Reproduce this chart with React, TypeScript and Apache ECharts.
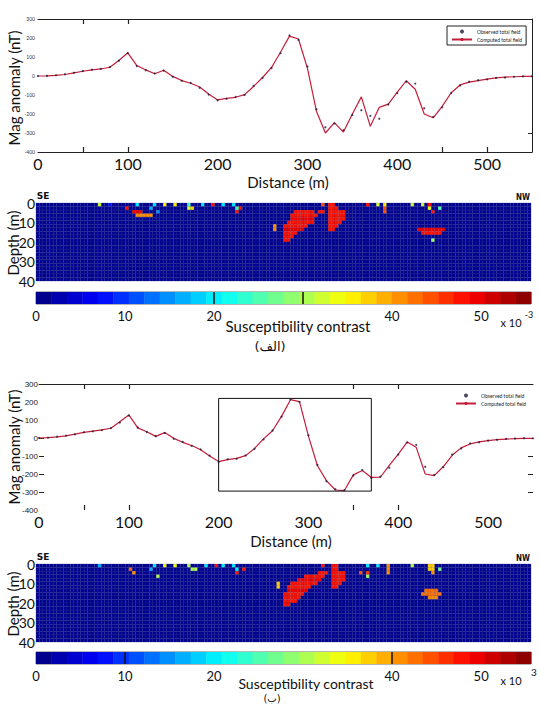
import React, { useEffect, useRef } from 'react';
import * as echarts from 'echarts';

// ---------- data ----------
const DIST = [0,10,20,30,40,50,60,70,80,90,100,110,120,130,140,150,160,170,180,190,200,210,220,230,240,250,260,270,280,290,300,310,320,330,340,350,360,370,380,390,400,410,420,430,440,450,460,470,480,490,500,510,520,530,540,550];

const P1_COMPUTED = [0,1,3,8,16,25,32,37,46,82,
  122,55,32,12,30,-2,-24,-38,-58,-95,
  -126,-118,-112,-98,-55,-8,45,125,210,195,
  40,-185,-300,-245,-295,-200,-110,-265,-165,-148,
  -85,-25,-70,-200,-220,-160,-88,-47,-32,-24,
  -16,-10,-6,-4,-2,-2];
const P1_OBSERVED = [0,1,4,9,17,26,33,38,47,80,
  120,52,30,14,28,-4,-25,-36,-62,-98,
  -128,-120,-110,-100,-52,-10,42,120,214,190,
  50,-175,-270,-250,-285,-205,-180,-210,-225,-150,
  -90,-30,-40,-170,-215,-165,-90,-50,-30,-22,
  -18,-10,-8,-4,-2,-1];
const P2_COMPUTED = [0,2,6,12,22,31,38,45,54,90,
  128,56,35,9,30,-2,-24,-42,-65,-100,
  -131,-120,-113,-98,-58,-5,40,120,213,202,
  10,-154,-237,-289,-292,-205,-181,-219,-218,-152,
  -89,-22,-52,-200,-209,-160,-96,-55,-33,-22,
  -15,-9,-6,-4,-2,-2];
const P2_OBSERVED = [0,2,7,13,20,32,37,44,55,86,
  125,58,33,10,28,-4,-22,-44,-63,-98,
  -133,-118,-115,-97,-60,-8,42,118,215,200,
  15,-150,-240,-285,-290,-208,-178,-222,-215,-165,
  -92,-25,-38,-160,-205,-162,-92,-58,-30,-24,
  -14,-10,-5,-3,-1,-2];

const RECT_X = [200, 370];
const RECT_Y = [220, -295];

const DIST_TICKS_P1_BOTTOM = [50, 100, 450, 500];
const DIST_TICKS_P1_TOP = [50, 100];
const DIST_TICKS_P2 = [50, 100, 350, 400];

// heat-map anomalies: [row, firstCol, lastCol, susceptibility x1e-3]
const HEAT1_RUNS = [
  [0,18,18,33],[0,21,21,8],[0,29,29,20],[0,34,34,20],[0,37,37,36],[0,40,40,36],[0,44,44,24],[0,48,48,20],[0,51,51,48],[0,54,54,20],[0,57,57,20],
  [1,26,26,48],[1,33,33,16],[1,44,44,33],[1,45,45,38],[1,58,58,25],[1,59,59,48],
  [2,28,30,50],[2,35,35,14],[2,58,58,48],
  [3,29,33,40],
  [0,83,83,45],[0,96,96,48],[0,99,99,33],[0,101,101,36],[1,101,101,45],[2,101,101,45],[0,109,109,33],[0,112,112,33],[0,114,114,48],[1,114,114,34],[1,117,117,26],[2,115,115,48],
  [2,75,80,48],[2,82,83,47],[3,74,81,48],[4,74,80,49],[5,73,80,48],[6,72,78,48],[7,72,77,49],[8,72,75,48],[9,72,74,48],[10,72,73,48],
  [6,69,69,40],[7,69,69,40],
  [0,85,86,47],[1,85,87,48],[2,85,89,48],[3,85,89,48],[4,85,89,47],[5,85,88,48],[6,85,87,48],[7,85,86,48],
  [7,111,118,49],[8,112,117,48],[10,115,115,28]
];
const HEAT2_RUNS = [
  [0,18,18,17],[1,33,33,17],[0,34,34,20],[0,37,37,34],[0,40,40,34],[0,44,44,31],[1,45,46,31],[0,49,49,20],[0,52,52,48],[0,54,54,20],[0,57,57,20],[1,58,58,20],[1,60,60,48],[2,58,58,48],
  [1,27,27,43],[2,28,28,40],[3,35,35,30],
  [0,83,83,48],
  [2,82,84,48],[3,78,83,48],[4,76,82,49],[5,74,81,48],[6,73,79,48],[7,73,78,49],[8,72,77,48],[9,72,76,48],[10,72,75,48],[11,72,73,48],
  [5,70,70,38],[6,70,70,38],
  [0,86,87,48],[1,86,87,48],[2,86,89,48],[3,86,89,48],[4,86,89,47],[5,86,88,48],[6,86,87,48],
  [2,94,94,45],[0,96,96,20],[2,96,96,46],[3,96,96,28],[0,99,99,20],[0,102,102,40],[1,102,102,40],[2,102,102,40],[0,109,109,30],[0,114,115,38],[1,114,115,38],[2,115,115,40],[1,117,117,27],
  [7,113,116,42],[8,112,117,42],[9,114,116,41]
];
const BACKGROUND = 0;

const CB_MAX = 55.6;
const CB_LEVELS = 32;
const CB_MARKS_1 = [20, 30];
const CB_MARKS_2 = [10, 40];
const CB_HIDDEN_LABELS = [30];

const COLS = 144;
const ROWS = 22;
const DEPTH_MAX = 40;

// ---------- helpers ----------
const clamp = (x: number) => Math.max(0, Math.min(1, x));
function jet(v: number) {
  const idx = Math.min(CB_LEVELS - 1, Math.max(0, Math.floor((v / CB_MAX) * CB_LEVELS)));
  const t = (idx + 0.5) / CB_LEVELS;
  const r = clamp(1.5 - Math.abs(4 * t - 3));
  const g = clamp(1.5 - Math.abs(4 * t - 2));
  const b = clamp(1.5 - Math.abs(4 * t - 1));
  return `rgb(${Math.round(r * 255)},${Math.round(g * 255)},${Math.round(b * 255)})`;
}
function buildGrid(runs: number[][]) {
  const m = new Map<string, number>();
  runs.forEach(([r, c0, c1, v]) => { for (let c = c0; c <= c1; c++) m.set(c + ',' + r, v); });
  const out: number[][] = [];
  for (let r = 0; r < ROWS; r++) for (let c = 0; c < COLS; c++) {
    const v = m.get(c + ',' + r);
    out.push([c, r, v === undefined ? BACKGROUND : v]);
  }
  return out;
}
const pairs = (xs: number[], ys: number[]) => xs.map((x, i) => [x, ys[i]]);

const FONT = 'Lato, "Open Sans", sans-serif';

export default function App() {
  const ref = useRef<HTMLDivElement>(null);
  useEffect(() => {
    document.body.style.margin = '0';
    if (!ref.current) return;
    const chart = echarts.init(ref.current, null, { renderer: 'svg' });

    const heatRender = (params: any, api: any) => {
      const c = api.value(0), r = api.value(1), v = api.value(2);
      const p0 = api.coord([c, (r * DEPTH_MAX) / ROWS]);
      const p1 = api.coord([c + 1, ((r + 1) * DEPTH_MAX) / ROWS]);
      return {
        type: 'rect',
        shape: { x: p0[0], y: Math.min(p0[1], p1[1]), width: p1[0] - p0[0], height: Math.abs(p1[1] - p0[1]) },
        style: { fill: jet(v), stroke: v > 0 ? 'rgba(0,0,60,0.25)' : 'rgba(25,35,140,0.55)', lineWidth: 0.5 },
      };
    };
    const step = CB_MAX / CB_LEVELS;
    const cbData = Array.from({ length: CB_LEVELS }, (_, i) => [i * step, 0.5]);
    const cbRender = (params: any, api: any) => {
      const x0 = api.value(0);
      const p0 = api.coord([x0, 1]);
      const p1 = api.coord([x0 + step, 0]);
      return {
        type: 'rect',
        shape: { x: p0[0], y: p0[1], width: p1[0] - p0[0] + 0.4, height: p1[1] - p0[1] },
        style: { fill: jet(x0 + step / 2) },
      };
    };

    const lineFrame = { show: true, onZero: false, lineStyle: { color: '#222', width: 1 } };
    const noLabel = { show: false };

    const xLine = (gridIndex: number, position: string, ticks: number[], showLine: boolean, showLabel: boolean) => ({
      type: 'value', gridIndex, position, min: 0, max: 550, interval: 100,
      axisLine: showLine ? lineFrame : { show: false, onZero: false },
      axisTick: { show: true, inside: true, length: 5, customValues: ticks, lineStyle: { color: '#222', width: 1.2 } },
      axisLabel: showLabel
        ? { show: true, fontSize: 16, color: '#111', margin: 3, fontFamily: FONT, showMaxLabel: false,
            formatter: (v: number) => (v > 500 ? '' : String(v)) }
        : noLabel,
      splitLine: { show: false },
    });

    const cbAxis = (gridIndex: number) => ({
      type: 'value', gridIndex, min: 0, max: CB_MAX, interval: 10,
      axisLine: { show: false, onZero: false }, axisTick: { show: false }, splitLine: { show: false },
      axisLabel: {
        show: true, fontSize: 13, color: '#111', margin: 5, fontFamily: FONT, showMaxLabel: false,
        formatter: (v: number) => (CB_HIDDEN_LABELS.includes(v) || v > 50 ? '' : String(v)),
      },
    });
    const cbY = (gridIndex: number) => ({ type: 'value', gridIndex, min: 0, max: 1, show: false });
    const heatX = (gridIndex: number) => ({ type: 'value', gridIndex, min: 0, max: COLS, show: false });
    const heatY = (gridIndex: number) => ({
      type: 'value', gridIndex, min: 0, max: DEPTH_MAX, interval: 10, inverse: true,
      axisLine: { show: false }, axisTick: { show: false }, splitLine: { show: false },
      axisLabel: { show: true, fontSize: 14, color: '#111', margin: 1, fontFamily: FONT },
    });

    const txt = (text: string, x: number, y: number, fontSize: number, extra: any = {}) => ({
      type: 'text', x, y, silent: true,
      style: { text, fontSize, fill: '#111', fontFamily: FONT, textAlign: 'center', textVerticalAlign: 'middle', ...extra },
    });
    const vtxt = (text: string, x: number, y: number, fontSize: number) => ({
      type: 'text', x, y, rotation: Math.PI / 2, silent: true,
      style: { text, fontSize, fill: '#111', fontFamily: FONT, textAlign: 'center', textVerticalAlign: 'middle' },
    });

    const legendBase = {
      orient: 'vertical', itemWidth: 20, itemHeight: 4, itemGap: 3,
      textStyle: { fontSize: 5, color: '#222', fontFamily: FONT },
      data: [{ name: 'Observed total field', icon: 'circle' }, { name: 'Computed total field' }],
      selectedMode: false,
    };

    const option: any = {
      animation: false,
      backgroundColor: '#fff',
      grid: [
        { left: 38, top: 19, width: 494, height: 133, containLabel: false },
        { left: 39, top: 384, width: 494, height: 126, containLabel: false },
        { left: 36, top: 203, width: 495, height: 78, containLabel: false },
        { left: 36, top: 564, width: 495, height: 78, containLabel: false },
        { left: 36, top: 292, width: 495, height: 12, show: true, borderColor: '#444', borderWidth: 0.8, containLabel: false },
        { left: 36, top: 652, width: 495, height: 12, show: true, borderColor: '#444', borderWidth: 0.8, containLabel: false },
      ],
      xAxis: [
        xLine(0, 'bottom', DIST_TICKS_P1_BOTTOM, true, true),
        xLine(0, 'top', DIST_TICKS_P1_TOP, true, false),
        xLine(1, 'bottom', DIST_TICKS_P2, false, true),
        xLine(1, 'top', DIST_TICKS_P2, true, false),
        heatX(2), heatX(3), cbAxis(4), cbAxis(5),
      ],
      yAxis: [
        {
          type: 'value', gridIndex: 0, min: -400, max: 300, interval: 100, position: 'left',
          axisLine: { show: false, onZero: false }, axisTick: { show: false }, splitLine: { show: false },
          axisLabel: { fontSize: 5, color: '#333', margin: 3, fontFamily: FONT },
        },
        {
          type: 'value', gridIndex: 0, min: -400, max: 300, interval: 100, position: 'right',
          axisLine: lineFrame, splitLine: { show: false }, axisLabel: noLabel,
          axisTick: { show: true, inside: true, length: 4, customValues: [0, -300], lineStyle: { color: '#222' } },
        },
        {
          type: 'value', gridIndex: 1, min: -400, max: 300, interval: 100, position: 'left',
          axisLine: { show: false, onZero: false }, splitLine: { show: false },
          axisTick: { show: true, inside: true, length: 5, customValues: [0, -100, -200, -300], lineStyle: { color: '#222' } },
          axisLabel: { fontSize: 8, color: '#222', margin: 1, fontFamily: '"Liberation Sans", sans-serif' },
        },
        {
          type: 'value', gridIndex: 1, min: -400, max: 300, interval: 100, position: 'right',
          axisLine: { show: false, onZero: false }, splitLine: { show: false }, axisLabel: noLabel,
          axisTick: { show: true, inside: true, length: 5, customValues: [-100, -200, -300], lineStyle: { color: '#222' } },
        },
        heatY(2), heatY(3), cbY(4), cbY(5),
      ],
      legend: [
        { ...legendBase, left: 447, top: 26, padding: [3, 4], borderColor: '#222', borderWidth: 1 },
        { ...legendBase, left: 452, top: 391, padding: [2, 3] },
      ],
      series: [
        { name: 'Observed total field', type: 'scatter', xAxisIndex: 0, yAxisIndex: 0, symbolSize: 2.2,
          itemStyle: { color: '#1c1c3a' }, data: pairs(DIST, P1_OBSERVED), z: 3 },
        { name: 'Computed total field', type: 'line', xAxisIndex: 0, yAxisIndex: 0, symbol: 'none',
          lineStyle: { color: '#c41e3a', width: 1.2 }, itemStyle: { color: '#c41e3a' }, data: pairs(DIST, P1_COMPUTED), z: 2 },
        { name: 'Observed total field', type: 'scatter', xAxisIndex: 2, yAxisIndex: 2, symbolSize: 2.2,
          itemStyle: { color: '#1c1c3a' }, data: pairs(DIST, P2_OBSERVED), z: 3 },
        { name: 'Computed total field', type: 'line', xAxisIndex: 2, yAxisIndex: 2, symbol: 'none',
          lineStyle: { color: '#c41e3a', width: 1.2 }, itemStyle: { color: '#c41e3a' }, data: pairs(DIST, P2_COMPUTED), z: 2 },
        { name: 'window', type: 'line', xAxisIndex: 2, yAxisIndex: 2, symbol: 'none', silent: true,
          lineStyle: { color: '#111', width: 1 },
          data: [[RECT_X[0], RECT_Y[0]], [RECT_X[1], RECT_Y[0]], [RECT_X[1], RECT_Y[1]], [RECT_X[0], RECT_Y[1]], [RECT_X[0], RECT_Y[0]]] },
        { type: 'custom', xAxisIndex: 4, yAxisIndex: 4, renderItem: heatRender, data: buildGrid(HEAT1_RUNS), encode: { x: 0, y: 1 }, silent: true },
        { type: 'custom', xAxisIndex: 5, yAxisIndex: 5, renderItem: heatRender, data: buildGrid(HEAT2_RUNS), encode: { x: 0, y: 1 }, silent: true },
        { type: 'custom', xAxisIndex: 6, yAxisIndex: 6, renderItem: cbRender, data: cbData, encode: { x: 0, y: 1 }, silent: true,
          markLine: { silent: true, symbol: ['none', 'none'], label: { show: false }, lineStyle: { color: '#111', width: 1.5, type: 'solid' },
            data: CB_MARKS_1.map((v) => ({ xAxis: v })) } },
        { type: 'custom', xAxisIndex: 7, yAxisIndex: 7, renderItem: cbRender, data: cbData, encode: { x: 0, y: 1 }, silent: true,
          markLine: { silent: true, symbol: ['none', 'none'], label: { show: false }, lineStyle: { color: '#111', width: 1.5, type: 'solid' },
            data: CB_MARKS_2.map((v) => ({ xAxis: v })) } },
      ],
      graphic: [
        vtxt('Mag anomaly (nT)', 14, 88, 15),
        vtxt('Mag anomaly (nT)', 14, 447, 15),
        txt('Distance (m)', 288, 182, 15),
        txt('Distance (m)', 291, 541, 15),
        txt('SE', 43, 196, 9, { fontWeight: 'bold', fontFamily: '"DejaVu Sans", sans-serif' }),
        txt('NW', 523, 197, 8, { fontWeight: 'bold', fontFamily: '"DejaVu Sans Condensed", "DejaVu Sans", sans-serif' }),
        txt('SE', 43, 557, 9, { fontWeight: 'bold', fontFamily: '"DejaVu Sans", sans-serif' }),
        txt('NW', 523, 558, 8, { fontWeight: 'bold', fontFamily: '"DejaVu Sans Condensed", "DejaVu Sans", sans-serif' }),
        vtxt('Depth (m)', 13, 243, 15),
        vtxt('Depth (m)', 13, 604, 15),
        txt('Susceptibility contrast', 298, 326, 15),
        txt('Susceptibility contrast', 306, 683, 14),
        txt('x 10', 511, 322, 11),
        txt('-3', 529, 314, 9),
        txt('x 10', 511, 680, 11),
        txt('3', 534, 672, 10),
        txt('(الف)', 270, 346, 13, { fontFamily: '"DejaVu Sans", sans-serif' }),
        txt('(ب)', 272, 698, 10, { fontFamily: '"DejaVu Sans", sans-serif' }),
      ],
    };
    chart.setOption(option);
    return () => chart.dispose();
  }, []);
  return <div ref={ref} style={{ position: 'absolute', left: 0, top: 0, width: 540, height: 704, background: '#fff' }} />;
}
